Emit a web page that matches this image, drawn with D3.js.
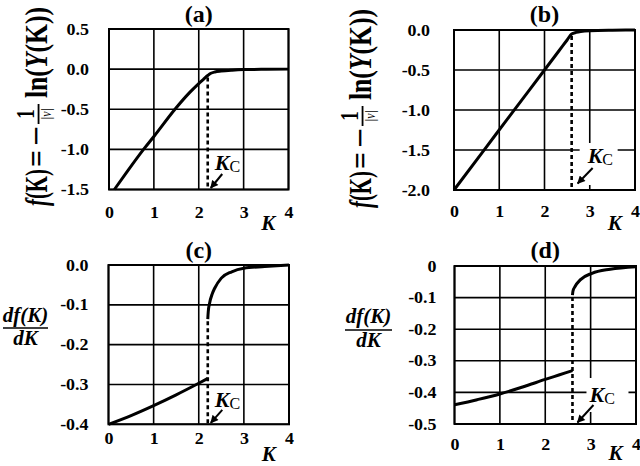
<!DOCTYPE html>
<html>
<head>
<meta charset="utf-8">
<script src="https://cdn.jsdelivr.net/npm/d3@7"></script>
<style>
  body { margin: 0; background: #fff; }
  svg { display: block; }
</style>
</head>
<body>
<div id="chart"></div>
<script>
var width = 640, height = 466;
var SERIF = '"Liberation Serif", "Times New Roman", serif';

// shared x axis
var kTicks = [0, 1, 2, 3, 4];

// (a) f(K) for the first lattice, Kc = 2.2
var aKc = 2.2;
var aK = [0.12, 0.4, 0.77, 1.0, 1.47, 1.8, 2.0, 2.1, 2.2, 2.27, 2.36, 2.5, 2.74, 3.0, 3.5, 4.0];
var aF = [-1.5, -1.28, -1.0, -0.84, -0.5, -0.29, -0.18, -0.13, -0.08, -0.052, -0.035, -0.024, -0.013, -0.006, -0.002, 0];
var aYTicks = [0.5, 0, -0.5, -1, -1.5];
var aYLabels = ["0.5", "0.0", "-0.5", "-1.0", "-1.5"];

// (b) f(K) for the second lattice, Kc = 2.6
var bKc = 2.6;
var bK = [0, 0.66, 1.25, 2.0, 2.3, 2.5, 2.6, 2.7, 2.8, 3.0, 3.5, 4.0];
var bF = [-2.0, -1.505, -1.06, -0.5, -0.275, -0.125, -0.05, -0.03, -0.018, -0.008, -0.002, 0];
var bYTicks = [0, -0.5, -1, -1.5, -2];
var bYLabels = ["0.0", "-0.5", "-1.0", "-1.5", "-2.0"];

// (c) df/dK, two branches split at Kc
var cK1 = [0, 0.5, 1.0, 1.5, 2.0, 2.2];
var cD1 = [-0.4, -0.378, -0.353, -0.326, -0.297, -0.285];
var cK2 = [2.2, 2.21, 2.24, 2.3, 2.35, 2.5, 2.73, 3.0, 3.46, 4.0];
var cD2 = [-0.136, -0.118, -0.096, -0.072, -0.059, -0.033, -0.017, -0.008, -0.004, 0];
var cYTicks = [0, -0.1, -0.2, -0.3, -0.4];
var cYLabels = ["0.0", "-0.1", "-0.2", "-0.3", "-0.4"];

// (d) df/dK, two branches split at Kc
var dK1 = [0, 0.5, 1.0, 1.5, 2.0, 2.3, 2.6];
var dD1 = [-0.439, -0.423, -0.405, -0.383, -0.359, -0.345, -0.331];
var dK2 = [2.6, 2.61, 2.66, 2.77, 3.03, 3.43, 4.0];
var dD2 = [-0.092, -0.08, -0.064, -0.044, -0.023, -0.01, -0.002];
var dYTicks = [0, -0.1, -0.2, -0.3, -0.4, -0.5];
var dYLabels = ["0", "-0.1", "-0.2", "-0.3", "-0.4", "-0.5"];

var svg = d3.select("#chart")
    .append("svg")
    .attr("width", width)
    .attr("height", height);

svg.append("rect").attr("width", width).attr("height", height).attr("fill", "#fff");

svg.append("defs").append("marker")
    .attr("id", "arrow")
    .attr("viewBox", "0 0 10 10")
    .attr("refX", 9).attr("refY", 5)
    .attr("markerWidth", 9).attr("markerHeight", 8)
    .attr("markerUnits", "userSpaceOnUse")
    .attr("orient", "auto")
  .append("path")
    .attr("d", "M0,0L10,5L0,10Z")
    .attr("fill", "#000");

var panels = [
  { left: 109, right: 288.5, top: 29, bottom: 189.5, yDomain: [-1.5, 0.5],
    yTicks: aYTicks, yLabels: aYLabels, branches: [[aK, aF]], kc: aKc, dashFrom: [aK, aF],
    xPad: 17, yPad: 20, title: "(a)", titleY: 22, kLabelDy: 40,
    tip: [3, -1.5], tail: [14.5, -15.5], txt: [7, -19.5], box: null },
  { left: 454, right: 635, top: 30, bottom: 190, yDomain: [-2, 0],
    yTicks: bYTicks, yLabels: bYLabels, branches: [[bK, bF]], kc: bKc, dashFrom: [bK, bF],
    xPad: 16, yPad: 24, title: "(b)", titleY: 22, kLabelDy: 40,
    tip: [6, -6.5], tail: [21, -22], txt: [16, -27], box: [8, -47, 38, 42] },
  { left: 108.5, right: 289, top: 265, bottom: 424.3, yDomain: [-0.4, 0],
    yTicks: cYTicks, yLabels: cYLabels, branches: [[cK1, cD1], [cK2, cD2]], kc: aKc, dashFrom: [cK2, cD2],
    xPad: 8, yPad: 20, title: "(c)", titleY: 258, kLabelDy: 37,
    tip: [3, -1.5], tail: [14.5, -14.5], txt: [7, -17], box: null },
  { left: 454.5, right: 636, top: 266, bottom: 424, yDomain: [-0.5, 0],
    yTicks: dYTicks, yLabels: dYLabels, branches: [[dK1, dD1], [dK2, dD2]], kc: bKc, dashFrom: [dK2, dD2],
    xPad: 15, yPad: 18, title: "(d)", titleY: 258, kLabelDy: 36,
    tip: [5, -1.5], tail: [21, -19], txt: [17, -22], box: [14, -46, 42, 34] }
];

panels.forEach(drawPanel);

function drawPanel(p) {
  var x = d3.scaleLinear().domain([0, 4]).range([p.left, p.right]);
  var y = d3.scaleLinear().domain(p.yDomain).range([p.bottom, p.top]);
  var g = svg.append("g");

  // grid
  g.append("g").selectAll("line")
      .data(kTicks)
    .enter().append("line")
      .attr("x1", d => x(d)).attr("x2", d => x(d))
      .attr("y1", p.top).attr("y2", p.bottom)
      .attr("stroke", "#000").attr("stroke-width", 1.6);
  g.append("g").selectAll("line")
      .data(p.yTicks)
    .enter().append("line")
      .attr("x1", p.left).attr("x2", p.right)
      .attr("y1", d => y(d)).attr("y2", d => y(d))
      .attr("stroke", "#000").attr("stroke-width", 1.6);
  g.append("rect")
      .attr("x", p.left).attr("y", p.top)
      .attr("width", p.right - p.left).attr("height", p.bottom - p.top)
      .attr("fill", "none").attr("stroke", "#000").attr("stroke-width", 2);

  // axes labels
  var xa = g.append("g")
      .attr("transform", "translate(0," + p.bottom + ")")
      .call(d3.axisBottom(x).tickValues(kTicks).tickSize(0).tickPadding(p.xPad).tickFormat(d3.format("d")));
  var ya = g.append("g")
      .attr("transform", "translate(" + p.left + ",0)")
      .call(d3.axisLeft(y).tickValues(p.yTicks).tickSize(0).tickPadding(p.yPad)
            .tickFormat((d, i) => p.yLabels[i]));
  [xa, ya].forEach(function(a) {
    a.select(".domain").remove();
    a.selectAll("text")
        .attr("fill", "#000")
        .attr("font-family", SERIF).attr("font-size", 16).attr("font-weight", "bold")
        .each(function() {
          var len = this.getComputedTextLength();
          d3.select(this).attr("textLength", len * 1.12).attr("lengthAdjust", "spacingAndGlyphs");
        });
  });

  g.append("text")
      .attr("x", x(3.55)).attr("y", p.bottom + p.kLabelDy)
      .attr("text-anchor", "middle")
      .attr("font-family", SERIF).attr("font-size", 21)
      .attr("font-weight", "bold").attr("font-style", "italic")
      .text("K");

  g.append("text")
      .attr("x", x(2)).attr("y", p.titleY)
      .attr("text-anchor", "middle")
      .attr("font-family", SERIF).attr("font-size", 24).attr("font-weight", "bold")
      .text(p.title);

  // dashed line at Kc
  var top = d3.scaleLinear().domain(p.dashFrom[0]).range(p.dashFrom[1])(p.kc);
  var xc = x(p.kc);
  g.append("line")
      .attr("x1", xc).attr("x2", xc)
      .attr("y1", y(top) + 2).attr("y2", p.bottom)
      .attr("stroke", "#000").attr("stroke-width", 2.6)
      .attr("stroke-dasharray", "4,3");

  // curves
  var line = d3.line().curve(d3.curveMonotoneX);
  p.branches.forEach(function(b) {
    g.append("path")
        .attr("d", line(b[0].map((k, i) => [x(k), y(b[1][i])])))
        .attr("fill", "none").attr("stroke", "#000")
        .attr("stroke-width", 3).attr("stroke-linejoin", "round");
  });

  // Kc annotation
  if (p.box) {
    g.append("rect")
        .attr("x", xc + p.box[0]).attr("y", p.bottom + p.box[1])
        .attr("width", p.box[2]).attr("height", p.box[3])
        .attr("fill", "#fff");
  }
  g.append("line")
      .attr("x1", xc + p.tail[0]).attr("y1", p.bottom + p.tail[1])
      .attr("x2", xc + p.tip[0]).attr("y2", p.bottom + p.tip[1])
      .attr("stroke", "#000").attr("stroke-width", 2)
      .attr("marker-end", "url(#arrow)");
  var t = g.append("text")
      .attr("x", xc + p.txt[0]).attr("y", p.bottom + p.txt[1])
      .attr("font-family", SERIF);
  t.append("tspan").attr("font-size", 22).attr("font-weight", "bold").attr("font-style", "italic").text("K");
  t.append("tspan").attr("font-size", 16).attr("dy", 2).text("C");
}

// y labels of (a) and (b): f(K) = -(1/|v|) ln(Y(K))
[[47, 206], [371, 208]].forEach(function(c) {
  var g = svg.append("g")
      .attr("transform", "translate(" + c[0] + "," + c[1] + ") rotate(-90) scale(1,1.3)")
      .attr("font-family", SERIF).attr("font-weight", "bold").attr("font-size", 25);
  var t1 = g.append("text").attr("x", 0).attr("y", 0)
      .attr("textLength", 37).attr("lengthAdjust", "spacingAndGlyphs");
  t1.append("tspan").attr("font-style", "italic").text("f");
  t1.append("tspan").text("(K)");
  g.append("text").attr("x", 39).attr("y", 0)
      .attr("textLength", 17).attr("lengthAdjust", "spacingAndGlyphs").text("=");
  g.append("text").attr("x", 60).attr("y", 0)
      .attr("textLength", 20).attr("lengthAdjust", "spacingAndGlyphs").text("\u2212");
  g.append("text").attr("x", 92).attr("y", -10).attr("text-anchor", "middle")
      .attr("font-size", 19).text("1");
  g.append("line").attr("x1", 82).attr("x2", 102).attr("y1", -6.5).attr("y2", -6.5)
      .attr("stroke", "#000").attr("stroke-width", 1.4);
  g.append("text").attr("x", 92).attr("y", 3).attr("text-anchor", "middle")
      .attr("font-size", 12).attr("font-weight", "normal").attr("font-style", "italic").text("|v|");
  var t2 = g.append("text").attr("x", 108).attr("y", 0)
      .attr("textLength", 91).attr("lengthAdjust", "spacingAndGlyphs");
  t2.append("tspan").text("ln(");
  t2.append("tspan").attr("font-style", "italic").text("Y");
  t2.append("tspan").text("(K))");
});

// y labels of (c) and (d): df(K)/dK
[[25.5, 322, 328, 45], [368.5, 323, 330, 47]].forEach(function(c) {
  var g = svg.append("g")
      .attr("font-family", SERIF).attr("font-weight", "bold")
      .attr("font-style", "italic").attr("font-size", 21)
      .attr("text-anchor", "middle");
  g.append("text").attr("x", c[0]).attr("y", c[1]).text("df(K)");
  g.append("line").attr("x1", c[0] - c[3] / 2).attr("x2", c[0] + c[3] / 2)
      .attr("y1", c[2]).attr("y2", c[2])
      .attr("stroke", "#000").attr("stroke-width", 1.5);
  g.append("text").attr("x", c[0]).attr("y", c[2] + 17).text("dK");
});
</script>
</body>
</html>
